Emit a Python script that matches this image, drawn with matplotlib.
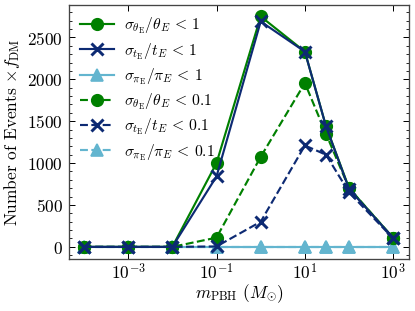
import matplotlib
matplotlib.use("Agg")
import matplotlib.pyplot as plt
import numpy as np
from matplotlib.ticker import FixedLocator, MultipleLocator, NullLocator, LogFormatterMathtext

plt.rcParams.update({
    "font.family": "serif",
    "font.serif": ["cmr10", "DejaVu Serif"],
    "mathtext.fontset": "cm",
    "axes.formatter.use_mathtext": True,
    "font.size": 10.5,
    "axes.unicode_minus": False,
})

masses = [1e-4, 1e-3, 1e-2, 1e-1, 1, 10, 30, 100, 1000]
theta_lt1 = [0, 0, 0, 1000, 2750, 2330, 1440, 700, 105]
tE_lt1 = [0, 0, 0, 840, 2690, 2330, 1440, 690, 105]
pi_lt1 = [0, 0, 0, 0, 0, 0, 0, 0, 0]
theta_lt01 = [0, 0, 0, 110, 1075, 1955, 1350, 700, 105]
tE_lt01 = [0, 0, 0, 5, 300, 1210, 1100, 650, 100]
pi_lt01 = [0, 0, 0, 0, 0, 0, 0, 0, 0]
xticks = [1e-3, 1e-1, 1e1, 1e3]

labels = [
    r"$\sigma_{\theta_{\rm E}}/\theta_E\,<\,1$",
    r"$\sigma_{t_{\rm E}}/t_E\,<\,1$",
    r"$\sigma_{\pi_{\rm E}}/\pi_E\,<\,1$",
    r"$\sigma_{\theta_{\rm E}}/\theta_E\,<\,0.1$",
    r"$\sigma_{t_{\rm E}}/t_E\,<\,0.1$",
    r"$\sigma_{\pi_{\rm E}}/\pi_E\,<\,0.1$",
]

green = "#008000"
navy = "#0d2a73"
lblue = "#63b5cf"

fig = plt.figure(figsize=(3.5, 2.625), dpi=415 / 3.5)
ax = fig.add_axes([0.166, 0.167, 0.820, 0.817])

series = [
    (theta_lt1, green, "o", "-", 3),
    (tE_lt1, navy, "x", "-", 4),
    (pi_lt1, lblue, "^", "-", 2),
    (theta_lt01, green, "o", "--", 3),
    (tE_lt01, navy, "x", "--", 4),
    (pi_lt01, lblue, "^", "--", 2),
]
for (vals, c, m, ls, z), lab in zip(series, labels):
    ax.plot(masses, vals, color=c, marker=m, ls=ls, lw=1.3, ms=7,
            mew=1.8 if m == "x" else 1.0, label=lab, zorder=z)

ax.set_xscale("log")
ax.set_xlim(10 ** -4.34, 10 ** 3.36)
ax.set_ylim(-145, 2890)
ax.xaxis.set_major_locator(FixedLocator(xticks))
ax.xaxis.set_major_formatter(LogFormatterMathtext())
ax.xaxis.set_minor_locator(NullLocator())
ax.yaxis.set_major_locator(MultipleLocator(500))
ax.yaxis.set_minor_locator(MultipleLocator(100))
ax.tick_params(which="both", direction="in", top=True, right=True)
ax.tick_params(which="major", length=3.5, width=0.6)
ax.tick_params(which="minor", length=2, width=0.5)
ax.tick_params(axis="x", pad=1.5)
for s in ax.spines.values():
    s.set_linewidth(0.8)
    s.set_color("#444444")

ax.set_xlabel(r"$m_{\rm PBH}$ $(M_{\odot})$", labelpad=0)
ax.set_ylabel(r"Number of Events $\times f_{\rm DM}$", labelpad=3)
ax.legend(loc="upper left", frameon=False, fontsize=9.5, handlelength=2.2,
          labelspacing=0.3, borderaxespad=0.3, handletextpad=0.6)

fig.savefig("out.png", dpi=415 / 3.5)
